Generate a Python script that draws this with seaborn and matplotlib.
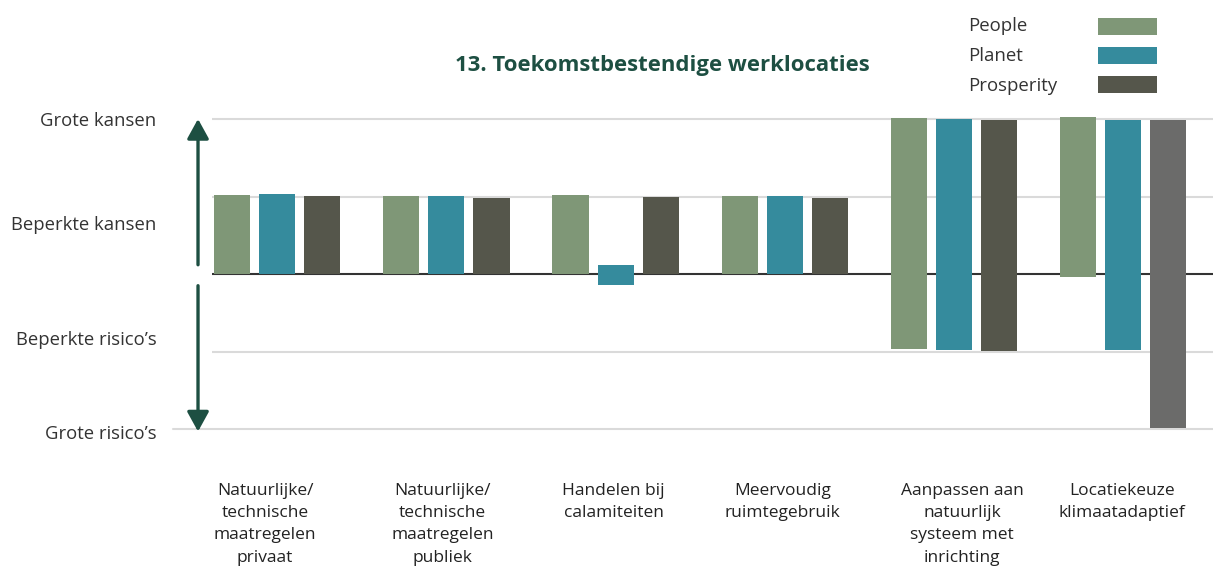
import matplotlib
matplotlib.use("Agg")
import matplotlib.pyplot as plt
import matplotlib.transforms as mtransforms
import seaborn as sns
import pandas as pd

# ---------------- data ----------------
categories = [
    "Natuurlijke/\ntechnische\nmaatregelen\nprivaat",
    "Natuurlijke/\ntechnische\nmaatregelen\npubliek",
    "Handelen bij\ncalamiteiten",
    "Meervoudig\nruimtegebruik",
    "Aanpassen aan\nnatuurlijk\nsysteem met\ninrichting",
    "Locatiekeuze\nklimaatadaptief",
]
series = ["People", "Planet", "Prosperity"]

people_top = [1.02, 1.01, 1.02, 1.01, 2.01, 2.02]
people_bottom = [0.0, 0.0, 0.0, 0.0, -0.96, -0.04]
planet_top = [1.03, 1.01, 0.12, 1.01, 2.00, 1.99]
planet_bottom = [0.0, 0.0, -0.14, 0.0, -0.98, -0.98]
prosperity_top = [1.01, 0.98, 1.00, 0.98, 1.99, 1.99]
prosperity_bottom = [0.0, 0.0, 0.0, 0.0, -0.99, -1.98]

level_labels = ["Grote kansen", "Beperkte kansen", "Beperkte risico\u2019s", "Grote risico\u2019s"]
level_positions = [2.0, 0.66, -0.83, -2.04]
grid_values = [2, 1, 0, -1, -2]

title = "13. Toekomstbestendige werklocaties"

# ---------------- styling ----------------
palette = {"People": "#7f9777", "Planet": "#358b9d", "Prosperity": "#55564b"}
last_prosperity_color = "#6b6b6a"
green = "#1d4f42"
FONT = ["Open Sans", "DejaVu Sans"]
label_shift_px = [-12, -4, -2, -2, 8, -1]   # small horizontal nudges of category labels

rows = []
for s, tops, bots in zip(series,
                         [people_top, planet_top, prosperity_top],
                         [people_bottom, planet_bottom, prosperity_bottom]):
    for c, t, b in zip(categories, tops, bots):
        rows.append({"categorie": c, "reeks": s, "boven": t, "onder": b})
df = pd.DataFrame(rows)

sns.set_theme(style="white")
plt.rcParams["font.family"] = FONT

fig = plt.figure(figsize=(12.13, 5.70), dpi=100)
ax = fig.add_axes([0.1748, 0.2416, 0.8252, 0.5565])

for col, leg in [("boven", True), ("onder", False)]:
    sns.barplot(data=df, x="categorie", y=col, hue="reeks", hue_order=series,
                order=categories, palette=palette, width=0.8, gap=0.2,
                errorbar=None, saturation=1, linewidth=0, legend=leg,
                ax=ax, zorder=3)

# distinct colour for the last prosperity bar
for ci in (2, 5):
    ax.containers[ci][5].set_facecolor(last_prosperity_color)

ax.set_xlim(-0.385, 5.53)
ax.set_ylim(-2.03, 2.05)
for s in ax.spines.values():
    s.set_visible(False)
ax.grid(False)

for g in grid_values:
    if g == 0:
        ax.axhline(g, color="#333333", lw=1.5, zorder=2)
    elif g == -2:
        ax.axhline(g, xmin=-0.039, color="#dadada", lw=1.5, zorder=1, clip_on=False)
    else:
        ax.axhline(g, color="#dadada", lw=1.5, zorder=1)

# arrows
arrow_style = dict(arrowstyle="-|>,head_length=1.0,head_width=0.55", color=green,
                   lw=2.4, shrinkA=0, shrinkB=0)
ax.annotate("", xy=(-0.014, 2.0), xytext=(-0.014, 0.12),
            xycoords=("axes fraction", "data"), textcoords=("axes fraction", "data"),
            arrowprops=arrow_style, annotation_clip=False)
ax.annotate("", xy=(-0.014, -2.03), xytext=(-0.014, -0.15),
            xycoords=("axes fraction", "data"), textcoords=("axes fraction", "data"),
            arrowprops=arrow_style, annotation_clip=False)

ax.set_yticks(level_positions, level_labels)
ax.tick_params(axis="y", length=0, pad=40, labelsize=13.3, labelcolor="#333333")
ax.tick_params(axis="x", length=0, pad=36.5, labelsize=12.5, labelcolor="#222222")
for lbl, dx in zip(ax.get_xticklabels(), label_shift_px):
    lbl.set_linespacing(1.52)
    lbl.set_verticalalignment("top")
    lbl.set_transform(lbl.get_transform() +
                      mtransforms.ScaledTranslation(dx / 100, 0, fig.dpi_scale_trans))
ax.set_xlabel("")
ax.set_ylabel("")

fig.text(662 / 1213, 1 - 66 / 570, title, ha="center", va="center",
         fontsize=15.9, fontweight="bold", color=green)

# legend: swatches from seaborn's legend handles, labels left-aligned to their left
old = ax.get_legend()
handles = old.legend_handles
labels = [t.get_text() for t in old.texts]
old.remove()
fig.legend(handles, [""] * len(handles), loc="upper left",
           bbox_to_anchor=(1098 / 1213, 1 - 18 / 570), bbox_transform=fig.transFigure,
           frameon=False, fontsize=12.5,
           handlelength=59 / 17.4, handleheight=19 / 17.4, handletextpad=0,
           labelspacing=(30 - 19) / 17.4, borderpad=0, borderaxespad=0)
for i, lab in enumerate(labels):
    fig.text(968 / 1213, 1 - (26 + 30 * i) / 570, lab, ha="left", va="center",
             fontsize=13.4, color="#333333")

fig.savefig("out.png", dpi=100)
